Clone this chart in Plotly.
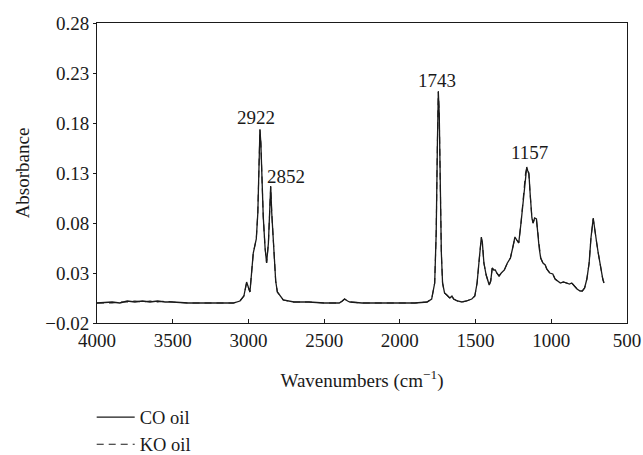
import plotly.graph_objects as go

wavenumber = [4000, 3900, 3850, 3800, 3750, 3700, 3650, 3600, 3550, 3500, 3400, 3300, 3200, 3100,
              3056, 3030, 3012, 2998, 2990, 2968, 2955, 2948, 2938, 2930, 2924, 2918, 2912, 2902,
              2890, 2880, 2868, 2858, 2853, 2846, 2831, 2820, 2809, 2770, 2700, 2600, 2500, 2400,
              2380, 2365, 2345, 2330, 2250, 2100, 2000, 1900, 1820, 1790, 1770, 1760, 1752, 1746,
              1740, 1734, 1726, 1718, 1705, 1690, 1670, 1656, 1645, 1620, 1590, 1560, 1545, 1525,
              1505, 1490, 1475, 1462, 1455, 1445, 1430, 1418, 1410, 1400, 1390, 1380, 1370, 1360,
              1345, 1330, 1310, 1290, 1270, 1255, 1240, 1228, 1215, 1200, 1185, 1170, 1162, 1155,
              1148, 1140, 1128, 1120, 1110, 1098, 1090, 1080, 1070, 1055, 1040, 1030, 1010, 990,
              975, 960, 940, 920, 900, 880, 865, 850, 830, 810, 795, 780, 765, 750, 738, 723, 712,
              700, 690, 675, 660, 652]

co_oil = [0.000, 0.001, 0.000, 0.002, 0.001, 0.002, 0.001, 0.002, 0.001, 0.001, 0.000, 0.000, 0.000, 0.000,
          0.002, 0.007, 0.021, 0.014, 0.011, 0.050, 0.060, 0.064, 0.090, 0.150, 0.173, 0.160, 0.125, 0.086,
          0.055, 0.040, 0.060, 0.105, 0.117, 0.090, 0.043, 0.022, 0.011, 0.003, 0.001, 0.001, 0.000, 0.000,
          0.002, 0.004, 0.002, 0.001, 0.000, 0.000, 0.000, 0.000, 0.001, 0.004, 0.020, 0.070, 0.160, 0.211,
          0.190, 0.120, 0.050, 0.020, 0.010, 0.008, 0.005, 0.007, 0.004, 0.002, 0.001, 0.002, 0.003, 0.004,
          0.007, 0.020, 0.045, 0.066, 0.060, 0.040, 0.028, 0.022, 0.018, 0.022, 0.035, 0.033, 0.033, 0.030,
          0.027, 0.030, 0.033, 0.040, 0.045, 0.055, 0.066, 0.063, 0.060, 0.080, 0.105, 0.130, 0.136, 0.132,
          0.130, 0.110, 0.085, 0.080, 0.085, 0.084, 0.070, 0.055, 0.045, 0.040, 0.038, 0.034, 0.030, 0.029,
          0.024, 0.022, 0.020, 0.021, 0.020, 0.019, 0.020, 0.017, 0.014, 0.012, 0.012, 0.015, 0.024, 0.040,
          0.065, 0.085, 0.070, 0.060, 0.050, 0.035, 0.024, 0.020]

ko_oil = [0.000, 0.000, 0.001, 0.001, 0.002, 0.001, 0.002, 0.001, 0.002, 0.001, 0.000, 0.000, 0.000, 0.000,
          0.002, 0.007, 0.020, 0.014, 0.011, 0.050, 0.060, 0.064, 0.091, 0.151, 0.174, 0.160, 0.126, 0.086,
          0.055, 0.040, 0.060, 0.105, 0.116, 0.090, 0.043, 0.022, 0.011, 0.003, 0.001, 0.001, 0.000, 0.000,
          0.002, 0.004, 0.002, 0.001, 0.000, 0.000, 0.000, 0.000, 0.001, 0.004, 0.020, 0.070, 0.161, 0.212,
          0.190, 0.121, 0.050, 0.020, 0.010, 0.008, 0.005, 0.007, 0.004, 0.002, 0.001, 0.002, 0.003, 0.004,
          0.007, 0.020, 0.045, 0.065, 0.060, 0.040, 0.028, 0.022, 0.018, 0.022, 0.035, 0.033, 0.033, 0.030,
          0.027, 0.030, 0.033, 0.040, 0.045, 0.055, 0.065, 0.063, 0.060, 0.080, 0.105, 0.130, 0.135, 0.132,
          0.129, 0.110, 0.085, 0.080, 0.085, 0.083, 0.070, 0.055, 0.045, 0.040, 0.038, 0.034, 0.030, 0.029,
          0.024, 0.022, 0.020, 0.021, 0.020, 0.019, 0.020, 0.017, 0.014, 0.012, 0.012, 0.015, 0.024, 0.040,
          0.065, 0.084, 0.070, 0.060, 0.050, 0.035, 0.024, 0.020]

peak_labels = ["2922", "2852", "1743", "1157"]
label_x = [2950, 2752, 1755, 1141]
label_y = [0.186, 0.127, 0.223, 0.151]

x_ticks = [4000, 3500, 3000, 2500, 2000, 1500, 1000, 500]
y_ticks = [-0.02, 0.03, 0.08, 0.13, 0.18, 0.23, 0.28]

FONT = "Liberation Serif"
FS = 19
INK = "#1a1a1a"

fig = go.Figure()
fig.add_trace(go.Scatter(x=wavenumber, y=co_oil, mode="lines", name="CO oil",
                         line=dict(color=INK, width=1.3)))
fig.add_trace(go.Scatter(x=wavenumber, y=ko_oil, mode="lines", name="KO oil",
                         line=dict(color=INK, width=1.1, dash="7px,5px")))

for t, xv, yv in zip(peak_labels, label_x, label_y):
    fig.add_annotation(x=xv, y=yv, text=t, showarrow=False, xref="x", yref="y",
                       font=dict(family=FONT, size=FS, color=INK))

fig.update_layout(
    width=643, height=455,
    margin=dict(l=97, r=16, t=23, b=132, autoexpand=False),
    paper_bgcolor="white", plot_bgcolor="white",
    font=dict(family=FONT, size=FS, color=INK),
    showlegend=True,
    legend=dict(x=-0.01, y=-0.252, xanchor="left", yanchor="top",
                font=dict(family=FONT, size=18.5, color=INK),
                bgcolor="rgba(0,0,0,0)", tracegroupgap=0, itemwidth=38),
)
fig.update_xaxes(range=[4000, 500], tickvals=x_ticks, ticks="inside", ticklen=4,
                 tickcolor=INK, showline=True, linecolor=INK, linewidth=1,
                 mirror=True, showgrid=False, zeroline=False,
                 title=dict(text="Wavenumbers (cm<sup>−1</sup>)", standoff=23,
                            font=dict(family=FONT, size=FS)))
fig.update_yaxes(range=[-0.02, 0.28], tickvals=y_ticks, tickformat=".2f", ticks="outside",
                 ticklen=3, tickcolor=INK, showline=True, linecolor=INK,
                 linewidth=1, mirror=True, showgrid=False, zeroline=False,
                 title=dict(text="Absorbance", standoff=10, font=dict(family=FONT, size=FS)))

fig.write_html("out.html")
